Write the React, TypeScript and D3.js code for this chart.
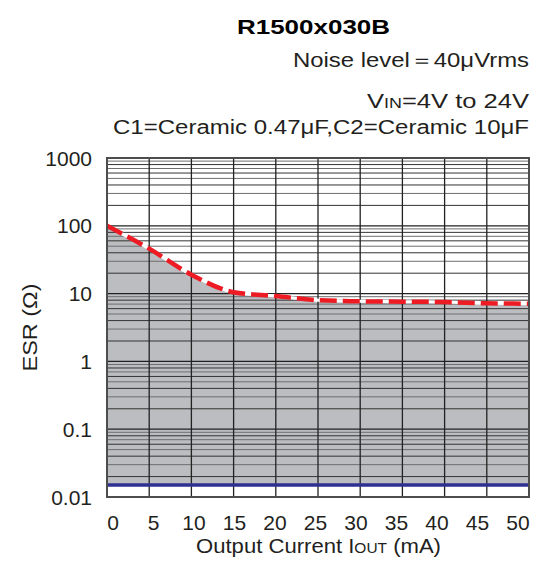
import React from "react";
import * as d3 from "d3";

const currentMA = [0, 5, 10, 15, 20, 25, 30, 35, 40, 45, 50];
const esrUpper = [100, 46, 19, 10.5, 9.2, 8.0, 7.7, 7.6, 7.5, 7.2, 7.1];
const esrLower = [0.015, 0.015, 0.015, 0.015, 0.015, 0.015, 0.015, 0.015, 0.015, 0.015, 0.015];
const xTicks = [0, 5, 10, 15, 20, 25, 30, 35, 40, 45, 50];
const yTicks = [0.01, 0.1, 1, 10, 100, 1000];
const yTickLabels = ["0.01", "0.1", "1", "10", "100", "1000"];

const W = 548, H = 567;
const L = 107, R = 529, T = 158, B = 497;
const FONT = "'Liberation Sans', Arial, Helvetica, sans-serif";

export default function App() {
  const x = d3.scaleLinear().domain([0, 50]).range([L, R]);
  const xLabel = d3.scaleLinear().domain([0, 50]).range([113, 518]);
  const y = d3.scaleLog().domain([0.01, 1000]).range([B, T]);

  const minor: number[] = [];
  for (let e = -2; e < 3; e++) {
    for (let m = 2; m <= 9; m++) minor.push(m * Math.pow(10, e));
  }

  const pts = currentMA.map((c, i) => ({ c, hi: esrUpper[i], lo: esrLower[i] }));
  const area = d3
    .area<any>()
    .x((d) => x(d.c))
    .y0((d) => y(d.lo))
    .y1((d) => y(d.hi))
    .curve(d3.curveMonotoneX);
  const upperLine = d3
    .line<any>()
    .x((d) => x(d.c))
    .y((d) => y(d.hi))
    .curve(d3.curveMonotoneX);
  const lowerLine = d3
    .line<any>()
    .x((d) => x(d.c))
    .y((d) => y(d.lo));

  return (
    <svg
      width={W}
      height={H}
      style={{ position: "absolute", left: 0, top: 0, background: "#fff" }}
      fontFamily={FONT}
    >
      <rect x={0} y={0} width={W} height={H} fill="#fff" />
      <path d={area(pts) || ""} fill="#bcbdc0" />
      {minor.map((v, i) => (
        <line
          key={"m" + i}
          x1={L}
          x2={R}
          y1={y(v)}
          y2={y(v)}
          stroke={i % 2 === 0 ? "#333" : "#6d6e70"}
          strokeWidth={1}
        />
      ))}
      {yTicks.map((v, i) => (
        <line key={"d" + i} x1={L} x2={R} y1={y(v)} y2={y(v)} stroke="#222" strokeWidth={1.2} />
      ))}
      {xTicks.map((v, i) => (
        <line key={"v" + i} x1={x(v)} x2={x(v)} y1={T} y2={B} stroke="#222" strokeWidth={1.3} />
      ))}
      <path d={lowerLine(pts) || ""} stroke="#2e3192" strokeWidth={3.5} fill="none" />
      <path d={upperLine(pts) || ""} stroke="#fff" strokeWidth={3} fill="none" />
      <path
        d={upperLine(pts) || ""}
        stroke="#ed1c24"
        strokeWidth={4.5}
        fill="none"
        strokeDasharray="17 6"
      />
      <rect x={L} y={T} width={R - L} height={B - T} fill="none" stroke="#4d4d4d" strokeWidth={2} />

      {yTicks.map((v, i) => (
        <text key={"yl" + i} x={92} y={y(v) + 7.5} textAnchor="end" fontSize={21} fill="#231f20">
          {yTickLabels[i]}
        </text>
      ))}
      {xTicks.map((v, i) => (
        <text key={"xl" + i} x={xLabel(v)} y={530} textAnchor="middle" fontSize={21} fill="#231f20">
          {v}
        </text>
      ))}
      <text
        x={196}
        y={553}
        fontSize={20}
        fill="#231f20"
        textLength={245}
        lengthAdjust="spacingAndGlyphs"
      >
        Output Current I<tspan fontSize={14}>OUT</tspan> (mA)
      </text>
      <text
        transform={`translate(37,${(T + B) / 2}) rotate(-90)`}
        textAnchor="middle"
        fontSize={20}
        fill="#231f20"
        textLength={88}
        lengthAdjust="spacingAndGlyphs"
      >
        ESR (Ω)
      </text>

      <text
        x={237}
        y={34}
        fontSize={21}
        fontWeight="bold"
        fill="#000"
        textLength={153}
        lengthAdjust="spacingAndGlyphs"
      >
        R1500x030B
      </text>
      <text
        x={293}
        y={67}
        fontSize={20}
        fill="#231f20"
        textLength={236}
        lengthAdjust="spacingAndGlyphs"
      >
        Noise level＝40μVrms
      </text>
      <text
        x={367}
        y={108}
        fontSize={20}
        fill="#231f20"
        textLength={162}
        lengthAdjust="spacingAndGlyphs"
      >
        V<tspan fontSize={14}>IN</tspan>=4V to 24V
      </text>
      <text
        x={113}
        y={134}
        fontSize={20}
        fill="#231f20"
        textLength={416}
        lengthAdjust="spacingAndGlyphs"
      >
        C1=Ceramic 0.47μF,C2=Ceramic 10μF
      </text>
    </svg>
  );
}
